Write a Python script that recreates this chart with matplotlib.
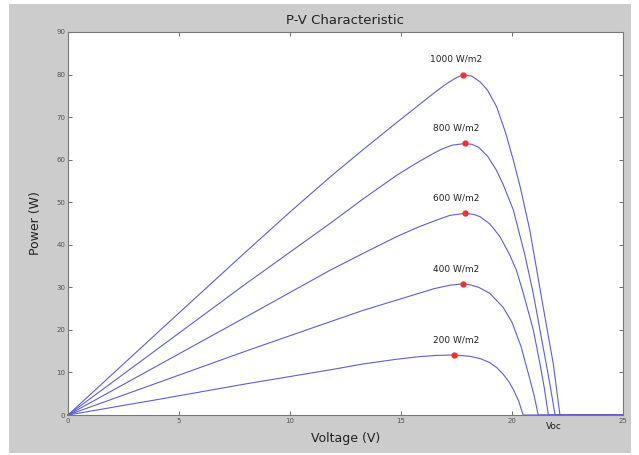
import matplotlib.pyplot as plt
from matplotlib.patches import Rectangle

# irradiance levels (W/m2) and P-V curves
levels = ["1000 W/m2", "800 W/m2", "600 W/m2", "400 W/m2", "200 W/m2"]

v_1000 = [0, 4, 8, 10, 11.8, 13.3, 14.8, 15.6, 16.3, 16.9, 17.4, 17.8, 18.2,
          18.56, 18.9, 19.31, 19.7, 20.06, 20.36, 20.8, 21.0, 21.4, 21.86,
          22.16, 25]
p_1000 = [0, 19.2, 38.3, 47.7, 55.9, 62.4, 68.7, 72.0, 74.9, 77.3, 79.0, 80.0,
          79.6, 78.3, 76.3, 72.4, 66.5, 59.9, 53.8, 43.5, 37.5, 25.5, 12.0,
          0, 0]

v_800 = [0, 4, 8, 11.8, 13.3, 14.8, 15.6, 16.3, 16.8, 17.3, 17.88, 18.2,
         18.5, 18.9, 19.3, 19.6, 20.06, 20.58, 20.96, 21.4, 21.7, 21.94, 25]
p_800 = [0, 15.4, 30.8, 45.0, 50.8, 56.3, 58.9, 61.0, 62.4, 63.4, 63.8, 63.6,
         62.9, 60.8, 57.5, 54.2, 48.2, 37.6, 28.5, 16.0, 7.5, 0, 0]

v_600 = [0, 4, 8, 11.8, 13.3, 14.8, 15.8, 16.6, 17.2, 17.88, 18.3, 18.56,
         19.0, 19.46, 19.9, 20.2, 20.5, 20.96, 21.26, 21.45, 21.64, 25]
p_600 = [0, 11.5, 23.0, 34.0, 38.0, 41.9, 44.2, 45.8, 46.9, 47.4, 47.1, 46.6,
         44.9, 41.9, 37.6, 34.0, 28.8, 20.0, 12.0, 6.5, 0, 0]

v_400 = [0, 4, 8, 11.8, 13.3, 14.8, 16.5, 17.2, 17.78, 18.1, 18.5, 19.0,
         19.6, 20.0, 20.4, 20.8, 21.0, 21.18, 25]
p_400 = [0, 7.5, 15.0, 21.9, 24.6, 27.0, 29.7, 30.5, 30.8, 30.6, 30.0, 28.6,
         25.3, 21.8, 16.2, 8.5, 4.5, 0, 0]

v_200 = [0, 4, 8, 11.8, 13.3, 14.8, 15.8, 16.6, 17.4, 18.1, 18.6, 19.0,
         19.3, 19.6, 19.85, 20.06, 20.3, 20.5, 25]
p_200 = [0, 3.6, 7.3, 10.6, 12.0, 13.1, 13.7, 14.0, 14.1, 13.8, 13.2, 12.3,
         11.2, 9.6, 7.9, 6.0, 3.3, 0, 0]

# maximum power points
mpp_v = [17.8, 17.88, 17.88, 17.78, 17.4]
mpp_p = [80.0, 63.8, 47.4, 30.8, 14.1]

curves = [(v_1000, p_1000), (v_800, p_800), (v_600, p_600),
          (v_400, p_400), (v_200, p_200)]

fig = plt.figure(figsize=(6.39, 4.55), dpi=100, facecolor="white")
fig.patches.append(Rectangle((9 / 639, 2 / 455), 622 / 639, 449 / 455,
                             transform=fig.transFigure, facecolor="#cccccc",
                             edgecolor="none", zorder=-10))

ax = fig.add_axes([68 / 639, 40 / 455, 555 / 639, 383 / 455])
ax.set_facecolor("white")

for (v, p) in curves:
    ax.plot(v, p, color="#5e5ed2", linewidth=0.8, clip_on=False)

ax.plot(mpp_v, mpp_p, linestyle="none", marker="o", markersize=3.5,
        color="#ff2b2b", zorder=3)

for name, v, p in zip(levels, mpp_v, mpp_p):
    ax.text(17.5, p + 2.5, name, ha="center", va="bottom", fontsize=6.5,
            color="#222222")

ax.text(21.9, -1.6, "Voc", ha="center", va="top", fontsize=6.5,
        color="#222222", clip_on=False)

ax.set_xlim(0, 25)
ax.set_ylim(0, 90)
ax.set_xticks(range(0, 26, 5))
ax.set_yticks(range(0, 91, 10))
ax.tick_params(direction="in", top=True, right=True, labelsize=5,
               colors="#555555", length=3, width=0.6, pad=2)
for s in ax.spines.values():
    s.set_color("#777777")
    s.set_linewidth(0.8)

ax.set_title("P-V Characteristic", fontsize=9.5, color="#222222", pad=6)
ax.set_xlabel("Voltage (V)", fontsize=9, color="#222222", labelpad=6)
ax.set_ylabel("Power (W)", fontsize=9, color="#222222", labelpad=10)

fig.savefig("out.png", dpi=100, facecolor="white")
